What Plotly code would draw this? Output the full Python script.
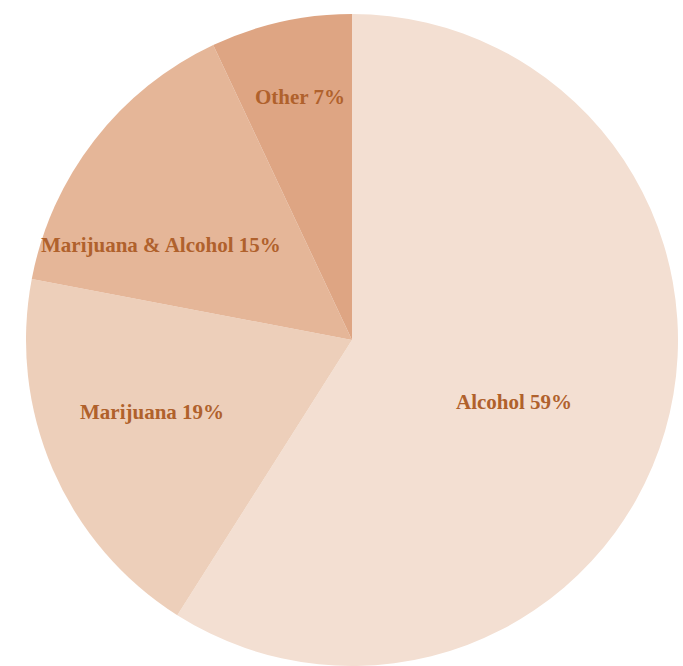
import plotly.graph_objects as go

# Share of substances involved (percent)
categories = ["Alcohol", "Marijuana", "Marijuana & Alcohol", "Other"]
shares = [59, 19, 15, 7]
slice_colors = ["#F3DFD2", "#EDCFBA", "#E5B698", "#DEA583"]

# Label anchor points (paper coordinates) for each slice's caption
label_x = [514 / 683, 152 / 683, 161 / 683, 300 / 683]
label_y = [1 - 402 / 666, 1 - 412 / 666, 1 - 245 / 666, 1 - 97 / 666]

W, H = 683, 666
cx, cy_from_bottom, r = 352, 326, 326

fig = go.Figure(
    go.Pie(
        labels=categories,
        values=shares,
        sort=False,
        direction="clockwise",
        rotation=0,
        marker=dict(colors=slice_colors, line=dict(width=0)),
        textinfo="none",
        hoverinfo="none",
        showlegend=False,
        domain=dict(
            x=[(cx - r) / W, (cx + r) / W],
            y=[(cy_from_bottom - r) / H, (cy_from_bottom + r) / H],
        ),
    )
)

annotations = []
for name, val, x, y in zip(categories, shares, label_x, label_y):
    annotations.append(
        dict(
            x=x,
            y=y,
            xref="paper",
            yref="paper",
            text=f"<b>{name} {val}%</b>",
            showarrow=False,
            font=dict(family="Liberation Serif", size=21, color="#B0612C"),
            xanchor="center",
            yanchor="middle",
        )
    )

fig.update_layout(
    width=W,
    height=H,
    margin=dict(l=0, r=0, t=0, b=0),
    paper_bgcolor="white",
    plot_bgcolor="white",
    annotations=annotations,
)

fig.write_html("out.html")
